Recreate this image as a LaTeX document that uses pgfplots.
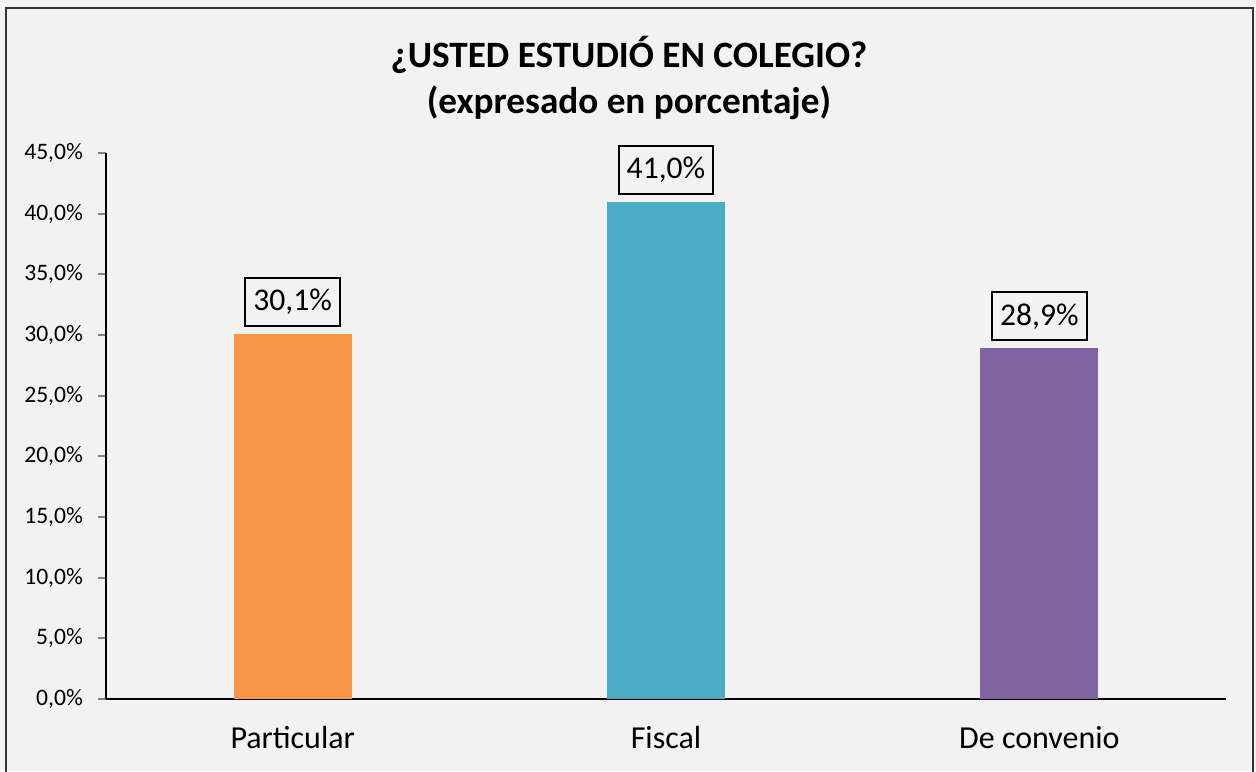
\documentclass[border=0pt]{standalone}
\usepackage{pgfplots}
\pgfplotsset{compat=1.18}
\usepackage{fontspec}
\setmainfont{Carlito}
\definecolor{bg}{HTML}{F2F2F2}
\definecolor{cOrange}{HTML}{F79646}
\definecolor{cTeal}{HTML}{4BACC6}
\definecolor{cPurple}{HTML}{8064A2}
\begin{document}
\begin{tikzpicture}[x=0.5pt,y=0.5pt]
\useasboundingbox (0,0) rectangle (1256,771);
\fill[bg] (0,0) rectangle (1256,771);
\draw[line width=1pt,black!80] (6,-10) rectangle (1253,763);
\node[font=\fontsize{18.6}{23}\selectfont\bfseries,align=center] at (629,693) {¿USTED ESTUDIÓ EN COLEGIO?\\(expresado en porcentaje)};
\begin{axis}[
  at={(106pt*0.5,72pt*0.5)}, anchor=south west,
  scale only axis, width=560pt, height=273pt,
  xmin=-0.5, xmax=2.5, ymin=0, ymax=45,
  ytick={0,5,...,45},
  xtick={0,1,2},
  xticklabels={Particular,Fiscal,De convenio},
  axis x line*=bottom, axis y line*=left,
  axis line style={line width=1pt},
  xtick style={draw=none},
  ytick style={line width=1pt},
  tick align=outside, major tick length=4pt,
  yticklabel={\pgfmathprintnumber[assume math mode=true,fixed,fixed zerofill,precision=1,use comma]{\tick}\%},
  yticklabel style={font=\fontsize{11.8}{13}\selectfont, xshift=-4pt},
  xticklabel style={font=\fontsize{16}{19}\selectfont, yshift=-6pt},
  ybar, bar width=59pt, bar shift=0pt,
  nodes near coords={\pgfmathprintnumber[assume math mode=true,fixed,fixed zerofill,precision=1,use comma]{\pgfplotspointmeta}\%},
  every node near coord/.append style={font=\fontsize{15.8}{18}\selectfont, draw=black, line width=1pt, fill=bg, anchor=south, yshift=3.5pt, inner xsep=4pt, inner ysep=0pt, minimum height=24pt, text=black},
  clip=false,
]
\addplot[fill=cOrange, draw=none] coordinates {(0,30.1)};
\addplot[fill=cTeal, draw=none] coordinates {(1,41.0)};
\addplot[fill=cPurple, draw=none] coordinates {(2,28.9)};
\end{axis}
\end{tikzpicture}
\end{document}
